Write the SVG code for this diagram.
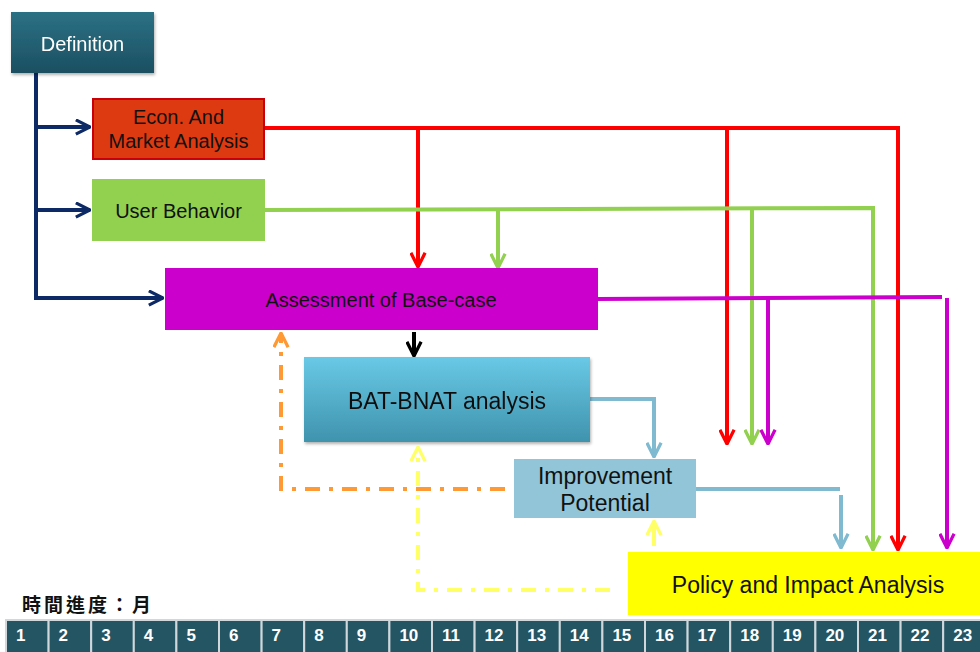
<svg xmlns="http://www.w3.org/2000/svg" width="980" height="652" viewBox="0 0 980 652">
<defs>
<style>
.lbl{font-family:"Liberation Sans",Arial,sans-serif;font-size:20px;fill:#111;text-anchor:middle}
.big{font-size:23px}
.num{font-family:"Liberation Sans",Arial,sans-serif;font-size:17px;font-weight:bold;fill:#fff}
.ln{fill:none;stroke-width:4}
.navy{stroke:#0d2a66}
.red{stroke:#ff0000}
.grn{stroke:#92d050}
.mag{stroke:#cc00cc}
.blu{stroke:#7fbad1}
.blk{stroke:#000}
.org{stroke:#ff9933;stroke-dasharray:15 9 4 9}
.yel{stroke:#ffff66;stroke-dasharray:15 9 4 9}
.cell{fill:#245563;stroke:#d0d8dc;stroke-width:2}
</style>
<linearGradient id="gDef" x1="0" y1="0" x2="0" y2="1"><stop offset="0" stop-color="#2c7185"/><stop offset="1" stop-color="#1b4f61"/></linearGradient>
<linearGradient id="gBat" x1="0" y1="0" x2="0" y2="1"><stop offset="0" stop-color="#69c9e6"/><stop offset="1" stop-color="#3f93ad"/></linearGradient>
<filter id="sh" x="-10%" y="-10%" width="130%" height="140%"><feDropShadow dx="1" dy="2" stdDeviation="1.5" flood-color="#000" flood-opacity="0.3"/></filter>
<marker id="aNavy" viewBox="0 0 12 12" refX="11" refY="6" markerWidth="17" markerHeight="17" markerUnits="userSpaceOnUse" orient="auto"><path d="M1,1 L11,6 L1,11" fill="none" stroke="#0d2a66" stroke-width="2.3"/></marker>
<marker id="aRed" viewBox="0 0 12 12" refX="11" refY="6" markerWidth="17" markerHeight="17" markerUnits="userSpaceOnUse" orient="auto"><path d="M1,1 L11,6 L1,11" fill="none" stroke="#ff0000" stroke-width="2.3"/></marker>
<marker id="aGrn" viewBox="0 0 12 12" refX="11" refY="6" markerWidth="17" markerHeight="17" markerUnits="userSpaceOnUse" orient="auto"><path d="M1,1 L11,6 L1,11" fill="none" stroke="#92d050" stroke-width="2.3"/></marker>
<marker id="aMag" viewBox="0 0 12 12" refX="11" refY="6" markerWidth="17" markerHeight="17" markerUnits="userSpaceOnUse" orient="auto"><path d="M1,1 L11,6 L1,11" fill="none" stroke="#cc00cc" stroke-width="2.3"/></marker>
<marker id="aBlu" viewBox="0 0 12 12" refX="11" refY="6" markerWidth="17" markerHeight="17" markerUnits="userSpaceOnUse" orient="auto"><path d="M1,1 L11,6 L1,11" fill="none" stroke="#7fbad1" stroke-width="2.3"/></marker>
<marker id="aBlk" viewBox="0 0 12 12" refX="11" refY="6" markerWidth="17" markerHeight="17" markerUnits="userSpaceOnUse" orient="auto"><path d="M1,1 L11,6 L1,11" fill="none" stroke="#000" stroke-width="2.3"/></marker>
<marker id="aOrg" viewBox="0 0 12 12" refX="11" refY="6" markerWidth="17" markerHeight="17" markerUnits="userSpaceOnUse" orient="auto"><path d="M1,1 L11,6 L1,11" fill="none" stroke="#ff9933" stroke-width="2.3"/></marker>
<marker id="aYel" viewBox="0 0 12 12" refX="11" refY="6" markerWidth="17" markerHeight="17" markerUnits="userSpaceOnUse" orient="auto"><path d="M1,1 L11,6 L1,11" fill="none" stroke="#ffff66" stroke-width="2.3"/></marker>
</defs>
<rect width="980" height="652" fill="#fff"/>

<g id="connectors">
<path class="ln navy" d="M36,73 V298 H163" marker-end="url(#aNavy)"/>
<path class="ln navy" d="M36,127 H90" marker-end="url(#aNavy)"/>
<path class="ln navy" d="M36,210 H90" marker-end="url(#aNavy)"/>
<path class="ln red" d="M264,128 H898 V550" marker-end="url(#aRed)"/>
<path class="ln red" d="M418,128 V267" marker-end="url(#aRed)"/>
<path class="ln red" d="M727,128 V444" marker-end="url(#aRed)"/>
<path class="ln grn" d="M264,210 L873,208 V550" marker-end="url(#aGrn)"/>
<path class="ln grn" d="M498,209 V268" marker-end="url(#aGrn)"/>
<path class="ln grn" d="M752,208 V444" marker-end="url(#aGrn)"/>
<path class="ln mag" d="M598,299 L942,297"/>
<path class="ln mag" d="M768,298 V444" marker-end="url(#aMag)"/>
<path class="ln mag" d="M947,298 V548" marker-end="url(#aMag)"/>
<path class="ln blk" d="M414,332 V356" marker-end="url(#aBlk)"/>
<path class="ln blu" d="M590,399 H654 V457" marker-end="url(#aBlu)"/>
<path class="ln blu" d="M696,489 H840"/>
<path class="ln blu" d="M841,495 V548" marker-end="url(#aBlu)"/>
<path class="ln org" d="M505,489 H281 V333" marker-end="url(#aOrg)"/>
<path class="ln yel" d="M610,590 H418 V447" marker-end="url(#aYel)"/>
<path class="ln" stroke="#ffff66" d="M654,546 V521" marker-end="url(#aYel)"/>
</g>

<g id="definition" filter="url(#sh)">
<rect x="11" y="12" width="143" height="61" fill="url(#gDef)"/>
<text class="lbl" x="82.5" y="51" style="fill:#fff">Definition</text>
</g>
<g id="econ">
<rect x="93" y="99" width="171" height="60" fill="#de3a12" stroke="#c8000a" stroke-width="2"/>
<text class="lbl" x="178.5" y="124">Econ. And</text>
<text class="lbl" x="178.5" y="148">Market Analysis</text>
</g>
<g id="user-behavior">
<rect x="92" y="179" width="173" height="62" fill="#92d050"/>
<text class="lbl" x="178.5" y="218">User Behavior</text>
</g>
<g id="assessment">
<rect x="165" y="268" width="433" height="62" fill="#cc00cc"/>
<text class="lbl" x="381" y="307">Assessment of Base-case</text>
</g>
<g id="bat-bnat" filter="url(#sh)">
<rect x="304" y="357" width="286" height="85" fill="url(#gBat)"/>
<text class="lbl big" x="447" y="409">BAT-BNAT analysis</text>
</g>
<g id="improvement">
<rect x="514" y="459" width="182" height="59" fill="#92c5d8"/>
<text class="lbl big" x="605" y="484">Improvement</text>
<text class="lbl big" x="605" y="511">Potential</text>
</g>
<g id="policy">
<rect x="628" y="552" width="352" height="63" fill="#ffff00"/>
<text class="lbl big" x="808" y="593">Policy and Impact Analysis</text>
</g>

<g id="timeline">
<text x="22" y="612" style="font-family:'Noto Sans CJK TC','Noto Sans CJK SC',sans-serif;font-size:19px;font-weight:bold;fill:#111;letter-spacing:3px">時間進度：月</text>
<rect class="cell" x="6" y="620" width="42.6" height="34"/>
<rect class="cell" x="48.6" y="620" width="42.6" height="34"/>
<rect class="cell" x="91.2" y="620" width="42.6" height="34"/>
<rect class="cell" x="133.8" y="620" width="42.6" height="34"/>
<rect class="cell" x="176.4" y="620" width="42.6" height="34"/>
<rect class="cell" x="219" y="620" width="42.6" height="34"/>
<rect class="cell" x="261.6" y="620" width="42.6" height="34"/>
<rect class="cell" x="304.2" y="620" width="42.6" height="34"/>
<rect class="cell" x="346.8" y="620" width="42.6" height="34"/>
<rect class="cell" x="389.4" y="620" width="42.6" height="34"/>
<rect class="cell" x="432" y="620" width="42.6" height="34"/>
<rect class="cell" x="474.6" y="620" width="42.6" height="34"/>
<rect class="cell" x="517.2" y="620" width="42.6" height="34"/>
<rect class="cell" x="559.8" y="620" width="42.6" height="34"/>
<rect class="cell" x="602.4" y="620" width="42.6" height="34"/>
<rect class="cell" x="645" y="620" width="42.6" height="34"/>
<rect class="cell" x="687.6" y="620" width="42.6" height="34"/>
<rect class="cell" x="730.2" y="620" width="42.6" height="34"/>
<rect class="cell" x="772.8" y="620" width="42.6" height="34"/>
<rect class="cell" x="815.4" y="620" width="42.6" height="34"/>
<rect class="cell" x="858" y="620" width="42.6" height="34"/>
<rect class="cell" x="900.6" y="620" width="42.6" height="34"/>
<rect class="cell" x="943.2" y="620" width="42.6" height="34"/>
<text class="num" x="16" y="641">1</text>
<text class="num" x="58.6" y="641">2</text>
<text class="num" x="101.2" y="641">3</text>
<text class="num" x="143.8" y="641">4</text>
<text class="num" x="186.4" y="641">5</text>
<text class="num" x="229" y="641">6</text>
<text class="num" x="271.6" y="641">7</text>
<text class="num" x="314.2" y="641">8</text>
<text class="num" x="356.8" y="641">9</text>
<text class="num" x="399.4" y="641">10</text>
<text class="num" x="442" y="641">11</text>
<text class="num" x="484.6" y="641">12</text>
<text class="num" x="527.2" y="641">13</text>
<text class="num" x="569.8" y="641">14</text>
<text class="num" x="612.4" y="641">15</text>
<text class="num" x="655" y="641">16</text>
<text class="num" x="697.6" y="641">17</text>
<text class="num" x="740.2" y="641">18</text>
<text class="num" x="782.8" y="641">19</text>
<text class="num" x="825.4" y="641">20</text>
<text class="num" x="868" y="641">21</text>
<text class="num" x="910.6" y="641">22</text>
<text class="num" x="953.2" y="641">23</text>
</g>
</svg>
